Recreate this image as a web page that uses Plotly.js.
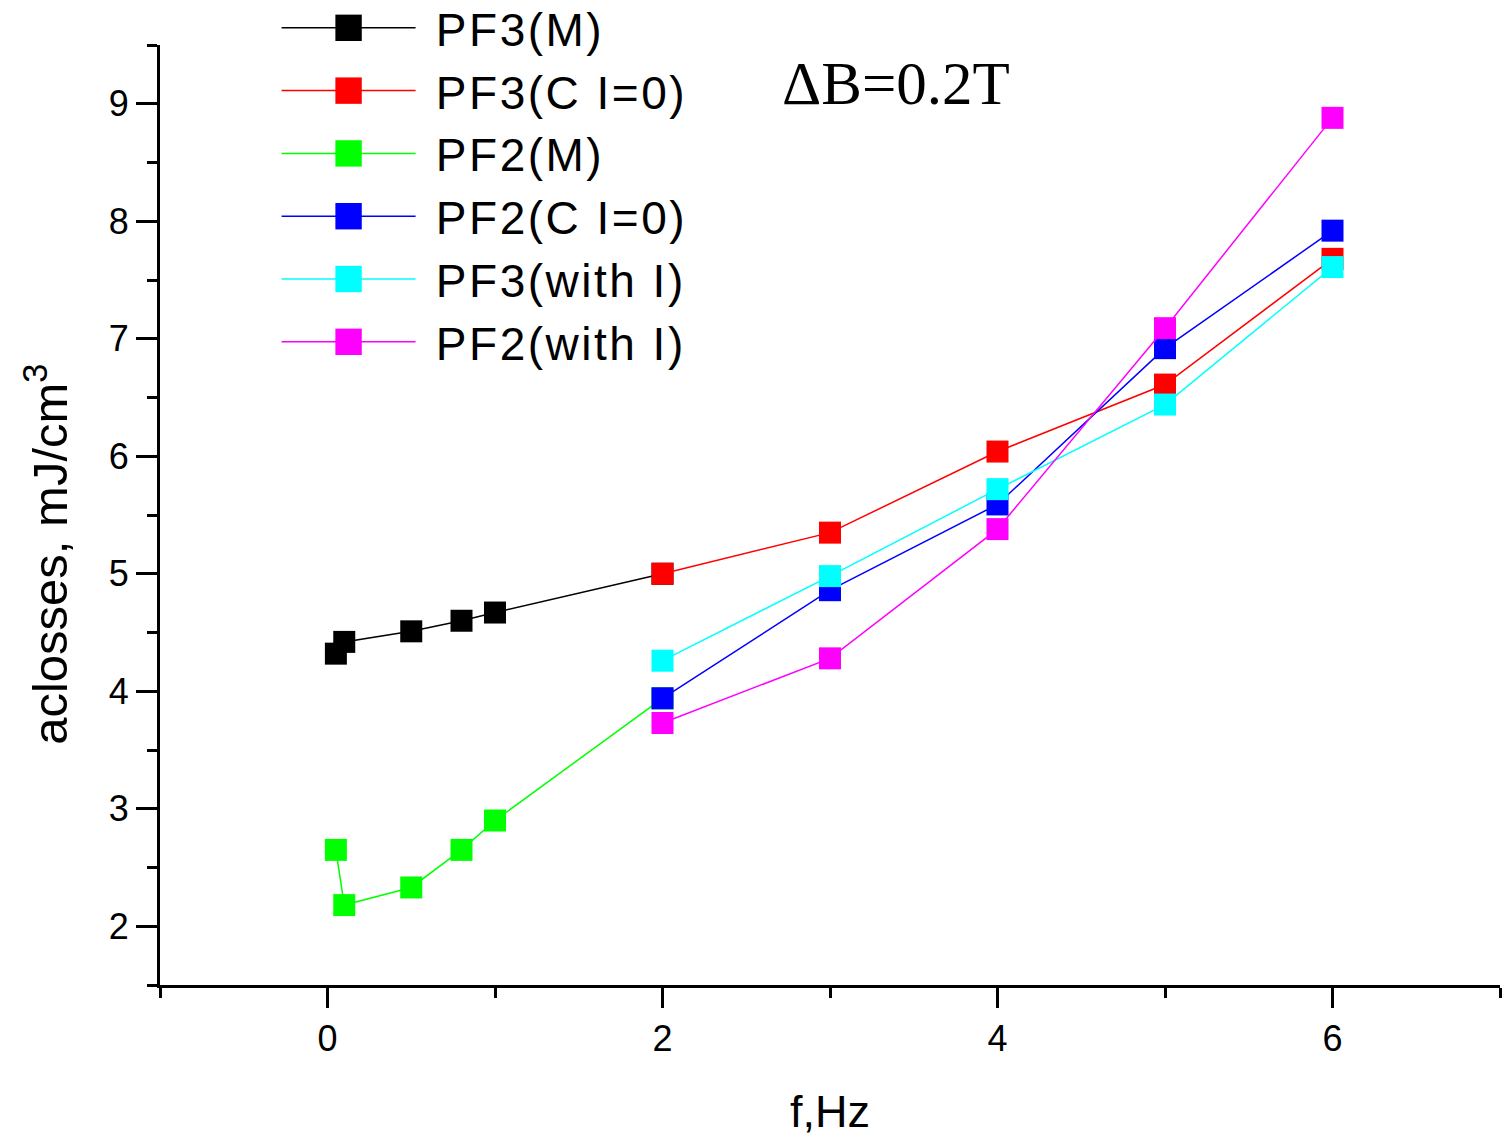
<!DOCTYPE html>
<html>
<head>
<meta charset="utf-8">
<script src="https://cdn.plot.ly/plotly-3.0.1.min.js"></script>
<style>
html, body { margin: 0; padding: 0; background: #fff; }
#chart { width: 1507px; height: 1136px; }
#chart .legend .legendtext { letter-spacing: 2.5px; }
</style>
</head>
<body>
<div id="chart"></div>
<script>
// ---- data ----
const seriesNames = ["PF3(M)", "PF3(C I=0)", "PF2(M)", "PF2(C I=0)", "PF3(with I)", "PF2(with I)"];
const seriesColors = ["#000000", "#ff0000", "#00ff00", "#0000ff", "#00ffff", "#ff00ff"];

const fLow = [0.05, 0.1, 0.5, 0.8, 1, 2];
const fHigh = [2, 3, 4, 5, 6];

const PF3_M = [4.32, 4.42, 4.51, 4.60, 4.67, 5.00];
const PF3_C0 = [5.00, 5.35, 6.04, 6.61, 7.68];
const PF2_M = [2.65, 2.18, 2.33, 2.65, 2.90, 3.94];
const PF2_C0 = [3.94, 4.86, 5.59, 6.92, 7.92];
const PF3_I = [4.26, 4.98, 5.72, 6.44, 7.61];
const PF2_I = [3.73, 4.28, 5.38, 7.09, 8.88];

const xTickVals = [0, 2, 4, 6];
const yTickVals = [2, 3, 4, 5, 6, 7, 8, 9];

const xs = [fLow, fHigh, fLow, fHigh, fHigh, fHigh];
const ys = [PF3_M, PF3_C0, PF2_M, PF2_C0, PF3_I, PF2_I];

const traces = seriesNames.map((name, i) => ({
  type: "scatter",
  mode: "lines+markers",
  name: "\u00a0" + name,
  x: xs[i],
  y: ys[i],
  line: { color: seriesColors[i], width: 1.5 },
  marker: { symbol: "square", size: 22, color: seriesColors[i] }
}));

const font = "Liberation Sans, Arial, sans-serif";

const layout = {
  width: 1507,
  height: 1136,
  margin: { l: 160, r: 7, t: 45, b: 151, autoexpand: false },
  paper_bgcolor: "#ffffff",
  plot_bgcolor: "#ffffff",
  font: { family: font, color: "#000000", size: 36 },
  showlegend: true,
  legend: {
    x: 0.087, y: 1.057, xanchor: "left", yanchor: "top",
    bgcolor: "rgba(0,0,0,0)",
    font: { family: font, size: 46, color: "#000" },
    itemwidth: 134,
    tracegroupgap: 0
  },
  xaxis: {
    range: [-1, 7],
    tickvals: xTickVals,
    ticks: "outside", ticklen: 20, tickwidth: 3, tickcolor: "#000",
    showline: true, linewidth: 3, linecolor: "#000",
    showgrid: false, zeroline: false,
    tickfont: { family: font, size: 36, color: "#000" },
    minor: { dtick: 1, tick0: 0, ticks: "outside", ticklen: 10, tickwidth: 3, tickcolor: "#000", showgrid: false }
  },
  yaxis: {
    range: [1.5, 9.5],
    tickvals: yTickVals,
    ticks: "outside", ticklen: 21, tickwidth: 3, tickcolor: "#000",
    showline: true, linewidth: 3, linecolor: "#000",
    showgrid: false, zeroline: false,
    tickfont: { family: font, size: 36, color: "#000" },
    minor: { dtick: 0.5, tick0: 0, ticks: "outside", ticklen: 10, tickwidth: 3, tickcolor: "#000", showgrid: false }
  },
  annotations: [
    {
      text: "f,Hz", xref: "paper", yref: "paper", x: 0.5, y: -0.135,
      xanchor: "center", yanchor: "middle", showarrow: false,
      font: { family: font, size: 45, color: "#000" }
    },
    {
      text: "aclosses, mJ/cm<sup>3</sup>", xref: "paper", yref: "paper",
      x: -0.0845, y: 0.4585, xanchor: "center", yanchor: "middle",
      textangle: -90, showarrow: false,
      font: { family: font, size: 49, color: "#000" }
    },
    {
      text: "ΔB=0.2T", xref: "paper", yref: "paper",
      x: (896 - 160) / 1340, y: (985 - 83) / 940,
      xanchor: "center", yanchor: "middle", showarrow: false,
      font: { family: "Liberation Serif, Times New Roman, serif", size: 61, color: "#000" }
    }
  ]
};

Plotly.newPlot("chart", traces, layout, { displayModeBar: false, staticPlot: true }).then(gd => {
  // enlarge legend sample markers (Plotly caps them at 16px)
  gd.querySelectorAll(".legend .legendpoints path.scatterpts").forEach(p => {
    const t = p.getAttribute("transform") || "";
    p.setAttribute("transform", t + " scale(1.65)");
  });
  // let the letter-spaced legend text run past Plotly's measured box
  gd.querySelectorAll(".legend, .legend .scrollbox").forEach(el => el.removeAttribute("clip-path"));
  gd.querySelectorAll(".legend .bg").forEach(el => el.setAttribute("width", 500));
});
</script>
</body>
</html>
